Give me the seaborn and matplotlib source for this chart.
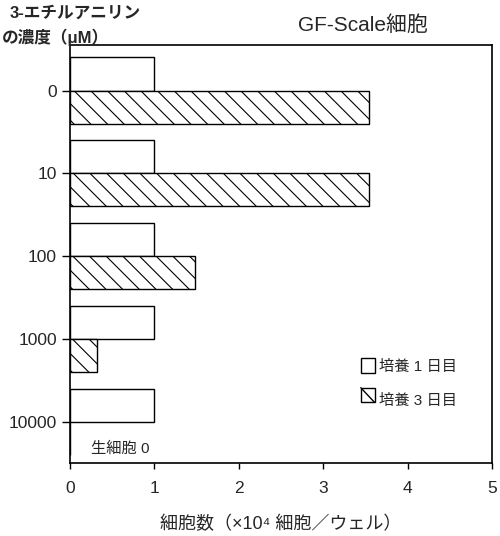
import numpy as np
import pandas as pd
import seaborn as sns
import matplotlib.pyplot as plt
from matplotlib.patches import Patch, Rectangle
from matplotlib.lines import Line2D
from matplotlib.legend_handler import HandlerBase

# datos
concentraciones = ["0", "10", "100", "1000", "10000"]
dia1 = [1.0, 1.0, 1.0, 1.0, 1.0]
dia3 = [3.54, 3.54, 1.48, 0.32, 0.0]
series = ["培養 1 日目", "培養 3 日目"]

sns.set_theme(style="white")
plt.rcParams['font.family'] = ['Liberation Sans', 'Noto Sans CJK JP', 'DejaVu Sans']
plt.rcParams['hatch.linewidth'] = 0.8

df = pd.DataFrame({
    "conc": concentraciones * 2,
    "valor": dia1 + dia3,
    "serie": [series[0]] * 5 + [series[1]] * 5,
})


# cuadrado con una diagonal para la leyenda
class Diagonal(HandlerBase):
    def create_artists(self, legend, orig, xd, yd, w, h, fs, trans):
        r = Rectangle((xd, yd), w, h, facecolor="white", edgecolor="black",
                      lw=1.0, transform=trans)
        l = Line2D([xd, xd + w], [yd + h, yd], color="black", lw=1.0,
                   transform=trans)
        return [r, l]


fig = plt.figure(figsize=(5, 5.36), dpi=100)
ax = fig.add_axes([0.14, 0.136, 0.844, 0.78])
sns.barplot(data=df, x="valor", y="conc", hue="serie", orient="h",
            palette=["white", "white"], edgecolor="black", linewidth=1.0,
            width=0.8, ax=ax, legend=False)

# rayado para el dia 3
for p in ax.patches[5:10]:
    p.set_hatch("\\\\")

ax.set_xlim(0, 5)
ax.set_ylim(4.5, -0.55)
ax.set_xticks(range(6))
ax.set_yticks(range(5))
ax.set_yticklabels(concentraciones)
ax.tick_params(axis="both", labelsize=12.5, length=6, width=1, color="black",
               direction="out", left=True, bottom=True)
ax.tick_params(axis="x", length=4, pad=9)
for s in ax.spines.values():
    s.set_color("black")
    s.set_linewidth(1.2)
ax.set_xlabel("細胞数（×10⁴ 細胞／ウェル）", fontsize=13, labelpad=14)
ax.set_ylabel("")

# leyenda manual
h1 = Patch(facecolor="white", edgecolor="black", label=series[0])
h2 = Patch(facecolor="white", edgecolor="black", label=series[1])
ax.legend(handles=[h1, h2], loc="lower right", bbox_to_anchor=(0.95, 0.10),
          frameon=False, fontsize=11, handlelength=0.9, handleheight=1.1,
          handletextpad=0.3, labelspacing=1.2, handler_map={h2: Diagonal()})

fig.text(0.02, 0.975, "3-エチルアニリン", fontsize=12, weight="bold", va="center")
fig.text(0.004, 0.93, "の濃度（μM）", fontsize=12, weight="bold", va="center")
fig.text(0.596, 0.953, "GF-Scale細胞", fontsize=15, va="center")
ax.text(0.25, 4.32, "生細胞 0", fontsize=11, va="center", ha="left")

plt.savefig("out.png", dpi=100)
